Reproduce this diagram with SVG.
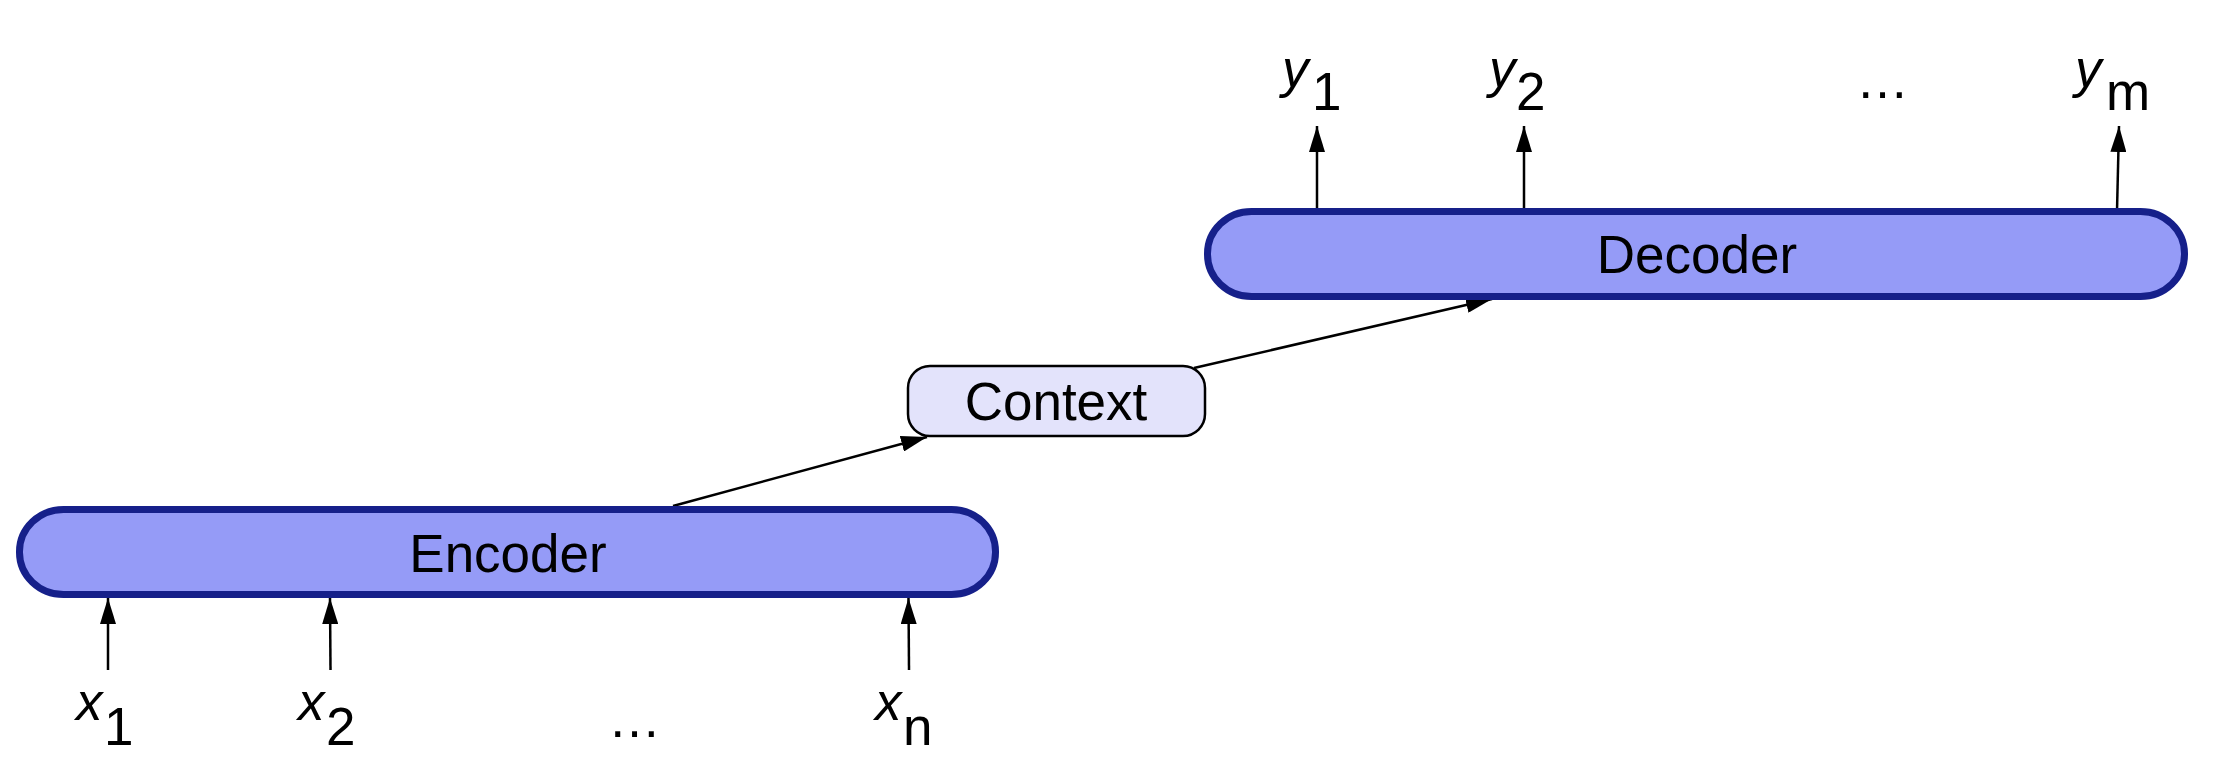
<svg xmlns="http://www.w3.org/2000/svg" width="2218" height="776" viewBox="0 0 2218 776">
<style>
.bar{fill:#959bf7;stroke:#16208a;stroke-width:7}
.ctx{fill:#e3e3fb;stroke:#000;stroke-width:2.5}
.lbl{font-family:"Liberation Sans",Arial,sans-serif;font-size:53px;fill:#000}
.var{font-style:italic}
.conn{stroke:#000;stroke-width:2.5;fill:none;marker-end:url(#arr)}
</style>
<defs>
<marker id="arr" viewBox="0 0 26 16" refX="26" refY="8" markerWidth="26" markerHeight="16" markerUnits="userSpaceOnUse" orient="auto">
<path d="M0,0 L26,8 L0,16 Z" fill="#000"/>
</marker>
</defs>
<g id="connectors">
<line class="conn" x1="108" y1="670" x2="108" y2="598"/>
<line class="conn" x1="330.5" y1="670" x2="330" y2="598"/>
<line class="conn" x1="909" y1="670" x2="908.5" y2="598"/>
<line class="conn" x1="673" y1="506" x2="927" y2="437"/>
<line class="conn" x1="1194" y1="368" x2="1492" y2="299"/>
<line class="conn" x1="1317" y1="211" x2="1317" y2="126"/>
<line class="conn" x1="1524" y1="211" x2="1524" y2="126"/>
<line class="conn" x1="2117" y1="211" x2="2119" y2="126"/>
</g>
<g id="encoder">
<rect class="bar" x="19.5" y="509.5" width="976" height="85" rx="44" ry="42"/>
<text class="lbl" x="508" y="572" text-anchor="middle">Encoder</text>
</g>
<g id="context">
<rect class="ctx" x="908" y="366" width="297" height="70" rx="22" ry="22"/>
<text class="lbl" x="1056" y="420" text-anchor="middle">Context</text>
</g>
<g id="decoder">
<rect class="bar" x="1207.5" y="211.5" width="977" height="85" rx="44" ry="42"/>
<text class="lbl" x="1697" y="273" text-anchor="middle">Decoder</text>
</g>
<g id="inputs">
<text class="lbl var" x="76" y="720">x</text><text class="lbl" x="104" y="745">1</text>
<text class="lbl var" x="298" y="720">x</text><text class="lbl" x="326" y="745">2</text>
<text class="lbl" x="608" y="737">…</text>
<text class="lbl var" x="875" y="720">x</text><text class="lbl" x="903" y="745">n</text>
</g>
<g id="outputs">
<text class="lbl var" x="1282" y="87">y</text><text class="lbl" x="1312" y="110">1</text>
<text class="lbl var" x="1489" y="87">y</text><text class="lbl" x="1516" y="110">2</text>
<text class="lbl" x="1856" y="98">…</text>
<text class="lbl var" x="2075" y="87">y</text><text class="lbl" x="2106" y="110">m</text>
</g>
</svg>
